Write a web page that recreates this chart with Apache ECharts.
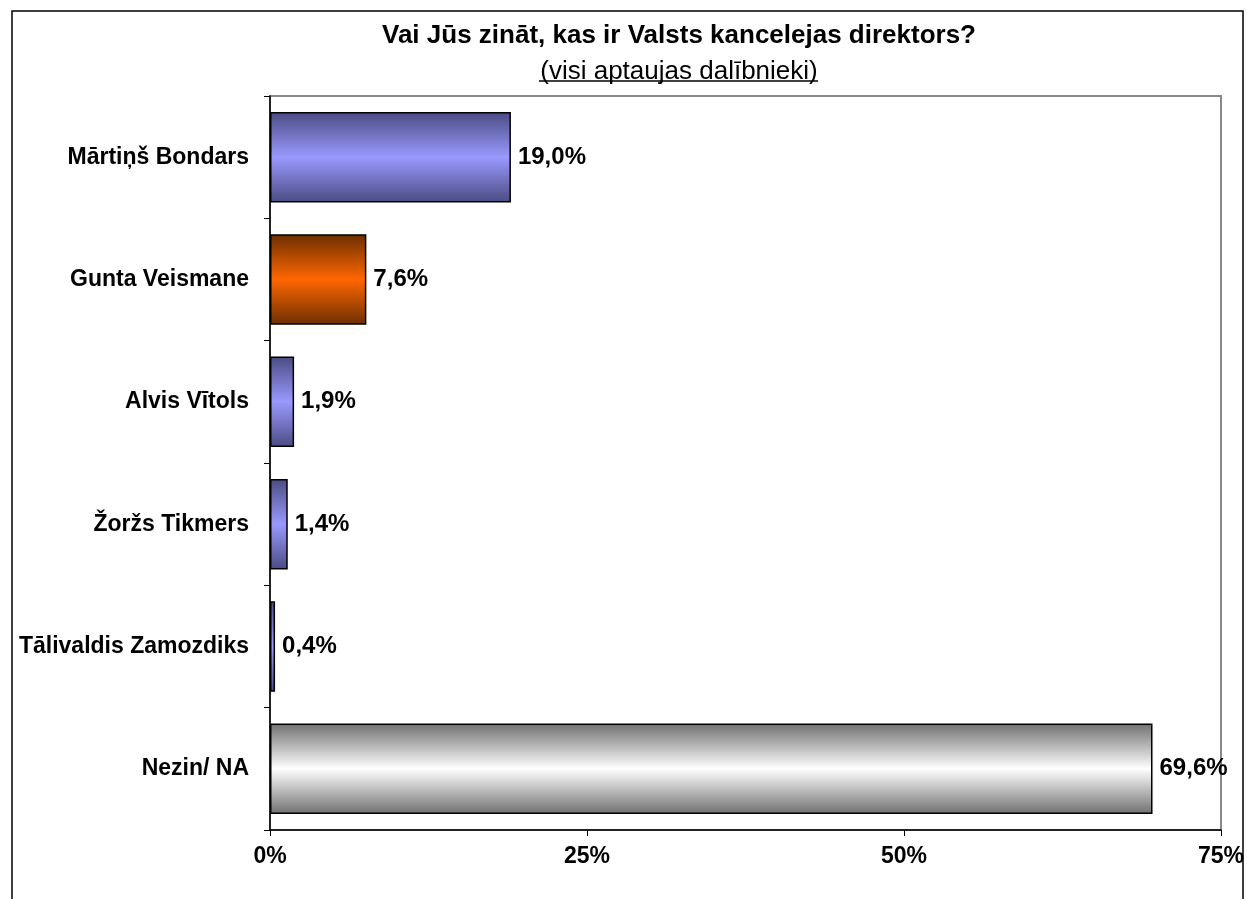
<!DOCTYPE html>
<html>
<head>
<meta charset="utf-8">
<script src="https://cdn.jsdelivr.net/npm/echarts@6/dist/echarts.min.js"></script>
<style>
  html, body { margin: 0; padding: 0; background: #fff; }
  #chart { width: 1247px; height: 899px; }
</style>
</head>
<body>
<div id="chart"></div>
<script>
// aptaujas dati
var categories = ['Mārtiņš Bondars', 'Gunta Veismane', 'Alvis Vītols', 'Žoržs Tikmers', 'Tālivaldis Zamozdiks', 'Nezin/ NA'];
var values = [19.0, 7.6, 1.9, 1.4, 0.4, 69.6];
var barKinds = ['blue', 'orange', 'blue', 'blue', 'blue', 'grey'];
var xTicks = [0, 25, 50, 75];

var FONT = 'Liberation Sans, Arial, sans-serif';

function grad(edge, mid) {
  return new echarts.graphic.LinearGradient(0, 0, 0, 1, [
    {offset: 0, color: edge},
    {offset: 0.5, color: mid},
    {offset: 1, color: edge}
  ]);
}
var palette = {
  blue: ['#4b4b82', '#9999ff'],
  orange: ['#6b2f00', '#ff6600'],
  grey: ['#707070', '#ffffff']
};

var chart = echarts.init(document.getElementById('chart'));
chart.setOption({
  animation: false,
  backgroundColor: '#fff',
  title: {
    text: 'Vai Jūs zināt, kas ir Valsts kancelejas direktors?',
    subtext: '(visi aptaujas dalībnieki)',
    left: 674,
    top: 18,
    textAlign: 'center',
    itemGap: 10,
    textStyle: {fontFamily: FONT, fontSize: 26, fontWeight: 'bold', color: '#000'},
    subtextStyle: {fontFamily: FONT, fontSize: 26, color: '#000'}
  },
  graphic: [
    {type: 'rect', shape: {x: 12, y: 11, width: 1231, height: 900}, style: {fill: 'none', stroke: '#000', lineWidth: 1.5}, z: 100},
    {type: 'line', shape: {x1: 539, y1: 81, x2: 818, y2: 81}, style: {stroke: '#000', lineWidth: 1.5}}
  ],
  grid: {
    left: 270, right: 25, top: 96, bottom: 69,
    show: true, borderColor: '#888', borderWidth: 2, backgroundColor: '#fff'
  },
  xAxis: {
    type: 'value',
    min: 0, max: 75, interval: 25,
    axisLine: {show: true, lineStyle: {color: '#000', width: 1.5}},
    axisTick: {show: true, length: 6, lineStyle: {color: '#000'}},
    splitLine: {show: false},
    axisLabel: {
      margin: 15,
      fontFamily: FONT, fontSize: 23, fontWeight: 'bold', color: '#000',
      formatter: function (v) { return xTicks.indexOf(v) >= 0 ? v + '%' : ''; }
    }
  },
  yAxis: {
    type: 'category',
    data: categories,
    inverse: true,
    axisLine: {show: true, lineStyle: {color: '#000', width: 1.5}},
    axisTick: {show: true, length: 6, lineStyle: {color: '#000'}},
    axisLabel: {margin: 21, fontFamily: FONT, fontSize: 23, fontWeight: 'bold', color: '#000'}
  },
  series: [{
    type: 'bar',
    barCategoryGap: '26%',
    data: values.map(function (v, i) {
      var p = palette[barKinds[i]];
      return {value: v, itemStyle: {color: grad(p[0], p[1])}};
    }),
    itemStyle: {borderColor: '#000', borderWidth: 1.5},
    label: {
      show: true, position: 'right', distance: 7,
      fontFamily: FONT, fontSize: 24, fontWeight: 'bold', color: '#000',
      formatter: function (p) { return p.value.toFixed(1).replace('.', ',') + '%'; }
    }
  }]
});
</script>
</body>
</html>
